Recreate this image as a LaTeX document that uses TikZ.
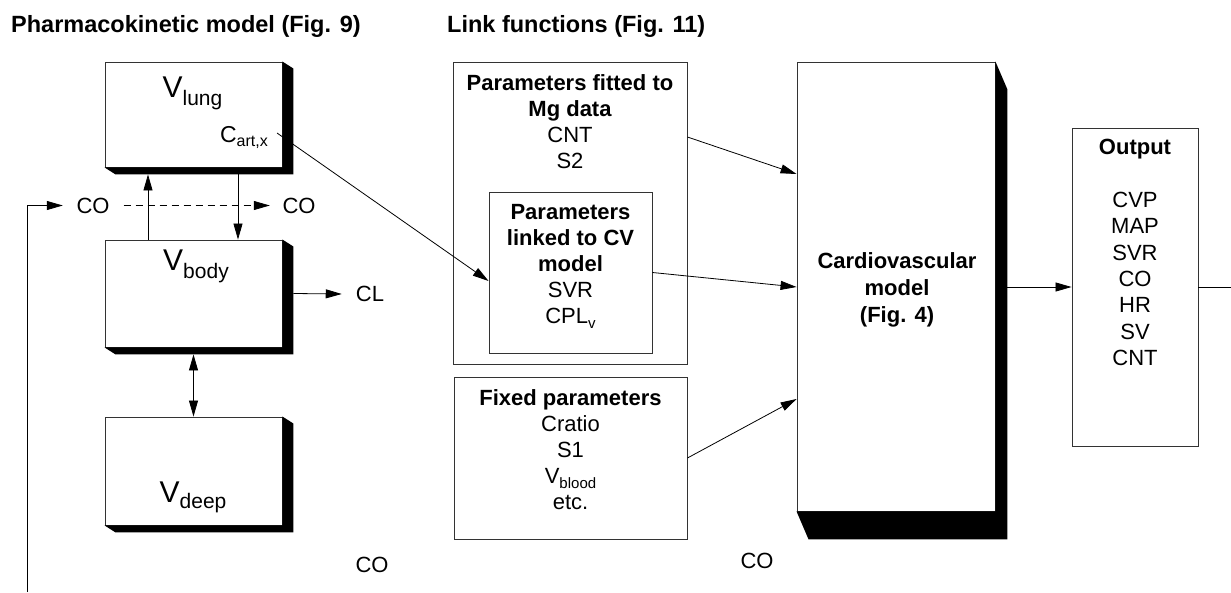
\documentclass[tikz,border=0pt]{standalone}
\usepackage{fontspec}
\setmainfont{Liberation Sans}
\usetikzlibrary{arrows.meta,calc}
\newcommand\fs[1]{\fontsize{#1}{#1}\selectfont}
\newcommand\extrude[3]{\fill[black] (#1.north east) -- ($(#1.north east)+(#2,#3)$) -- ($(#1.south east)+(#2,#3)$) -- ($(#1.south west)+(#2,#3)$) -- (#1.south west) -- (#1.south east) -- cycle;}
\begin{document}
\begin{tikzpicture}[x=1pt,y=-1pt,
  box/.style={draw=black!80, line width=0.9pt, fill=white, inner sep=0pt},
  arr/.style={-{Triangle[length=16pt,width=9pt]}, line width=0.8pt},
  dbl/.style={{Triangle[length=16pt,width=9pt]}-{Triangle[length=16pt,width=9pt]}, line width=0.8pt},
  txt/.style={inner sep=0pt, font=\fs{22}},
  head/.style={inner sep=0pt, font=\fs{23.5}\bfseries, anchor=base west},
  block/.style={inner sep=0pt, align=center, anchor=north},
  vlab/.style={inner sep=0pt, anchor=base}
]
\useasboundingbox (0,0) rectangle (1231,592);
% headings
\node[head] (h1) at (11,32) {Pharmacokinetic model (Fig. 9)};
\node[head] (h2) at (447,32) {Link functions (Fig. 11)};
% pharmacokinetic boxes
\node[box, minimum width=177pt, minimum height=105pt] (lung) at (193.5,114.5) {};
\extrude{lung}{11}{7}
\node[box, minimum width=177pt, minimum height=107pt] (body) at (193.5,293.5) {};
\extrude{body}{11}{7}
\node[box, minimum width=177pt, minimum height=108pt] (deep) at (193.5,471) {};
\extrude{deep}{11}{7}
\node[vlab] (vlung) at (192.5,97) {{\fs{30}V}\raisebox{-8pt}{\fs{21}lung}};
\node[vlab, anchor=base east] (cart) at (268,142) {{\fs{23}C}\raisebox{-4pt}{\fs{16}art,x}};
\node[vlab] (vbody) at (196,270) {{\fs{30}V}\raisebox{-8pt}{\fs{21}body}};
\node[vlab] (vdeep) at (193,502) {{\fs{30}V}\raisebox{-6pt}{\fs{21}deep}};
% CO labels
\node[txt] (co1) at (93,205.5) {CO};
\node[txt] (co2) at (299,205.5) {CO};
\node[txt] (cl) at (370,294) {CL};
\node[txt] (co3) at (372,565) {CO};
\node[txt] (co4) at (757,561) {CO};
\coordinate (fbstart) at (27,592);
% PK connectors
\draw[arr] ([xshift=-45.5pt]body.north) -- ([xshift=-45.5pt,yshift=-7pt]lung.south);
\draw[arr] ([xshift=44.5pt,yshift=-7pt]lung.south) -- ([xshift=44.5pt]body.north);
\draw[arr, dash pattern=on 7pt off 5pt] ([xshift=14pt]co1.east) -- ([xshift=-12.5pt]co2.west);
\draw[arr, shorten >=13.5pt] (fbstart) |- (co1.west);
\draw[arr] ([xshift=11pt]body.east) -- ([xshift=-14pt]cl.west);
\draw[dbl] ([yshift=-7pt]deep.north |- body.south) -- (deep.north);
% link function boxes
\node[box, minimum width=234pt, minimum height=302pt] (fit) at (570,213) {};
\node[block, font=\fs{22}] (fittxt) at (570,74) {\bfseries Parameters fitted to\\[4pt]\bfseries Mg data\\[4pt] CNT\\[4pt] S2};
\node[box, minimum width=163pt, minimum height=161pt] (inner) at (570.5,272.5) {};
\node[block, font=\fs{22}] (innertxt) at (570.5,204) {\bfseries Parameters\\[4pt]\bfseries linked to CV\\[4pt]\bfseries model\\[4pt] SVR\\[4pt] CPL\raisebox{-5pt}{\fs{15}v}};
\node[box, minimum width=233pt, minimum height=162pt] (fixed) at (570.5,458) {};
\node[block, font=\fs{22}] (fixedtxt) at (570.5,389) {\bfseries Fixed parameters\\[4pt] Cratio\\[4pt] S1\\[4pt] V\raisebox{-5pt}{\fs{15}blood}\\[4pt] etc.};
% CV model
\node[box, minimum width=198pt, minimum height=449pt] (cv) at (896,286.5) {};
\extrude{cv}{12}{28}
\node[block, font=\fs{22}\bfseries] (cvtxt) at (897,252) {Cardiovascular\\[5pt] model\\[5pt] (Fig. 4)};
% output
\node[box, minimum width=126pt, minimum height=318pt] (out) at (1135,287) {};
\node[block, font=\fs{22}] (outtxt) at (1135,139) {\bfseries Output\\[4.4pt] \\[4.4pt] CVP\\[4.4pt] MAP\\[4.4pt] SVR\\[4.4pt] CO\\[4.4pt] HR\\[4.4pt] SV\\[4.4pt] CNT};
\coordinate (rightend) at (1231,287);
% link connectors
\coordinate (cartx) at (277,133);
\draw[line width=0.8pt, -{Triangle[length=16pt,width=9pt]}] (cartx) -- ([yshift=-8.5pt]inner.west);
\draw[arr] ([yshift=76pt]fit.east) -- ([yshift=112.5pt]cv.west);
\draw[arr] (inner.east) -- ([yshift=-0.5pt]cv.west);
\draw[arr] (fixed.east) -- ([yshift=-112.5pt]cv.west);
\draw[arr] ([xshift=12pt,yshift=-0.5pt]cv.east) -- (out.west);
\draw[line width=0.8pt] (out.east) -- (rightend);
\end{tikzpicture}
\end{document}
